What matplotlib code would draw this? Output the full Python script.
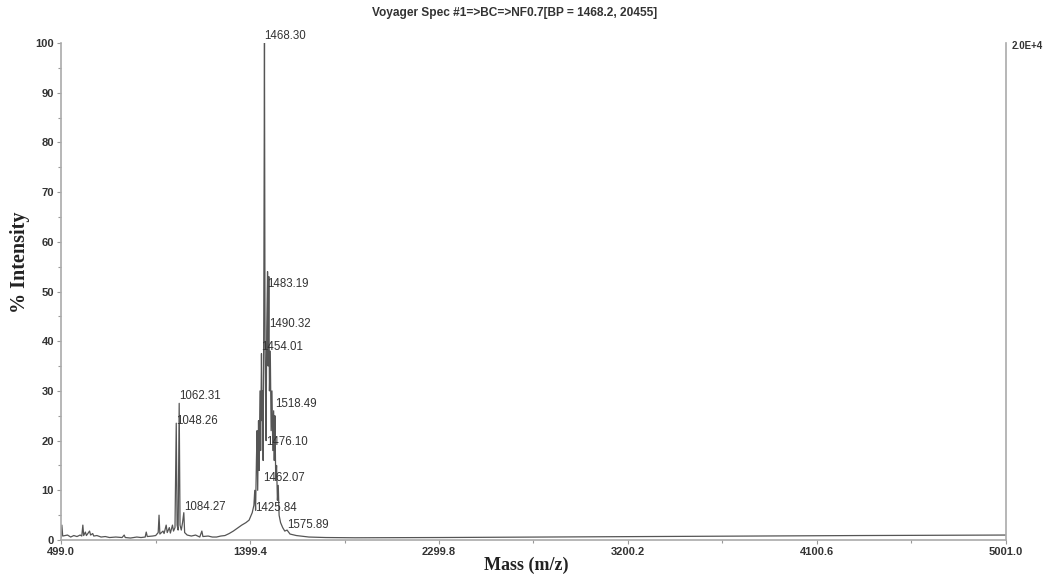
import matplotlib.pyplot as plt
from matplotlib.ticker import FixedLocator, MultipleLocator

# spectrum trace (m/z, % intensity)
mass = [499, 503, 507, 530, 545, 560, 575, 590, 598, 603, 607, 615, 620, 635, 640,
        650, 655, 670, 690, 710, 730, 760, 790, 800, 805, 830, 860, 880, 900, 905,
        910, 935, 950, 962, 966, 970, 985, 990, 1000, 1005, 1015, 1020, 1030, 1035,
        1042, 1048, 1052, 1057, 1062, 1066, 1072, 1078, 1084, 1088, 1100, 1120, 1140,
        1160, 1170, 1175, 1200, 1220, 1240, 1260, 1280, 1300, 1320, 1340, 1360, 1380,
        1395, 1400, 1410, 1418, 1422, 1426, 1430, 1433, 1436, 1440, 1443, 1447, 1450,
        1454, 1457, 1460, 1462, 1465, 1468.3, 1471, 1474, 1476, 1479, 1483, 1486, 1489,
        1492, 1496, 1500, 1504, 1508, 1512, 1515, 1518, 1522, 1526, 1530, 1534, 1538,
        1545, 1555, 1565, 1576, 1590, 1620, 1680, 1760, 1900, 2300, 2800, 3300, 3800,
        4300, 5001]
intensity = [0.5, 3.0, 0.8, 1.0, 0.6, 0.9, 0.7, 1.0, 0.8, 3.0, 0.9, 1.6, 0.9, 1.8, 1.0,
             1.3, 0.8, 0.9, 0.6, 0.7, 0.5, 0.6, 0.5, 1.0, 0.5, 0.4, 0.6, 0.5, 0.6, 1.6,
             0.7, 0.8, 0.9, 1.5, 5.0, 1.2, 1.8, 1.3, 3.0, 1.5, 2.5, 1.4, 3.0, 1.8,
             2.5, 23.5, 3.0, 2.0, 27.5, 3.0, 2.0, 3.5, 5.5, 1.5, 1.0, 0.8, 1.0,
             0.6, 1.8, 0.7, 0.8, 0.6, 0.6, 0.8, 0.9, 1.3, 1.8, 2.4, 3.0, 3.5,
             4.0, 4.5, 5.5, 7.0, 10.0, 6.0, 16.0, 22.0, 10.0, 24.0, 14.0, 30.0, 18.0,
             37.5, 24.0, 30.0, 16.0, 45.0, 100.0, 40.0, 28.0, 20.0, 42.0, 54.0, 35.0, 53.0,
             30.0, 38.0, 22.0, 30.0, 18.0, 26.0, 16.0, 25.0, 12.0, 15.0, 8.0, 11.0, 5.0,
             3.5, 2.5, 1.8, 2.0, 1.2, 0.9, 0.6, 0.5, 0.45, 0.5, 0.6, 0.7, 0.8,
             0.9, 1.0]

# annotated peaks
peak_mass = [1468.30, 1483.19, 1490.32, 1454.01, 1518.49, 1476.10, 1462.07, 1425.84,
             1575.89, 1062.31, 1048.26, 1084.27]
peak_height = [100.0, 50.0, 42.0, 37.4, 25.8, 18.3, 10.9, 5.0, 1.6, 27.4, 22.5, 5.2]

x_ticks = [499.0, 1399.4, 2299.8, 3200.2, 4100.6, 5001.0]

fig = plt.figure(figsize=(10.43, 5.77), dpi=100)
ax = fig.add_axes([0.0585, 0.0641, 0.906, 0.8614])

ax.plot(mass, intensity, color="#555555", lw=0.9)

for m, h in zip(peak_mass, peak_height):
    ax.annotate("%.2f" % m, (m, h), xytext=(0, 1), textcoords="offset points",
                ha="left", va="bottom", fontsize=8.3, color="#333333",
                family="Liberation Sans")

ax.set_xlim(499.0, 5001.0)
ax.set_ylim(0, 100)

ax.xaxis.set_major_locator(FixedLocator(x_ticks))
ax.xaxis.set_minor_locator(FixedLocator([(a + b) / 2 for a, b in zip(x_ticks[:-1], x_ticks[1:])]))
ax.set_xticklabels(["%.1f" % t for t in x_ticks])
ax.yaxis.set_major_locator(MultipleLocator(10))
ax.yaxis.set_minor_locator(MultipleLocator(5))

for lbl in ax.get_xticklabels() + ax.get_yticklabels():
    lbl.set_fontweight("bold")
    lbl.set_fontsize(8)
    lbl.set_family("Liberation Sans")
    lbl.set_color("#333333")

ax.tick_params(which="both", color="#999999", length=3, width=0.8, pad=2)
ax.tick_params(which="minor", length=2)
ax.spines["top"].set_visible(False)
for s in ["left", "right", "bottom"]:
    ax.spines[s].set_color("#aaaaaa")
    ax.spines[s].set_linewidth(1.2)

fig.text(0.505, 0.021, "Mass (m/z)", ha="center", va="center", family="Liberation Serif",
         fontweight="bold", fontsize=13, color="#222222")
fig.text(0.019, 0.545, "% Intensity", ha="center", va="center", rotation=90,
         family="Liberation Serif", fontweight="bold", fontsize=14.5, color="#222222")

fig.text(0.493, 0.978, "Voyager Spec #1=>BC=>NF0.7[BP = 1468.2, 20455]", ha="center",
         va="center", fontsize=8.6, fontweight="bold", family="Liberation Sans", color="#333333")
fig.text(0.970, 0.921, "2.0E+4", ha="left", va="center", fontsize=7, fontweight="bold",
         family="Liberation Sans", color="#333333")

fig.savefig("out.png", dpi=100)
